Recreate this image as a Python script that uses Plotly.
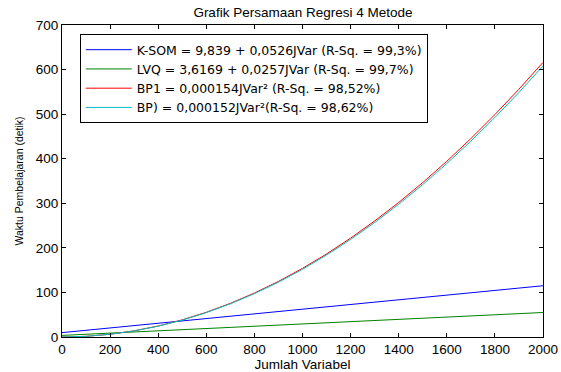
import plotly.graph_objects as go

x_vals = [0, 100, 200, 300, 400, 500, 600, 700, 800, 900, 1000,
          1100, 1200, 1300, 1400, 1500, 1600, 1700, 1800, 1900, 2000]
ksom = [9.8, 15.1, 20.4, 25.6, 30.9, 36.1, 41.4, 46.7, 51.9, 57.2, 62.4,
        67.7, 73.0, 78.2, 83.5, 88.7, 94.0, 99.3, 104.5, 109.8, 115.0]
lvq = [3.6, 6.2, 8.8, 11.3, 13.9, 16.5, 19.0, 21.6, 24.2, 26.7, 29.3,
       31.9, 34.5, 37.0, 39.6, 42.2, 44.7, 47.3, 49.9, 52.5, 55.0]
bp1 = [0, 1.5, 6.2, 13.9, 24.6, 38.5, 55.4, 75.5, 98.6, 124.7, 154.0,
       186.3, 221.8, 260.3, 301.8, 346.5, 394.2, 445.1, 499.0, 556.0, 616.0]
bp = [0, 1.5, 6.1, 13.7, 24.3, 38.0, 54.7, 74.5, 97.3, 123.1, 152.0,
      183.9, 218.9, 256.9, 297.9, 342.0, 389.1, 439.3, 492.5, 548.7, 608.0]

names = [
    "K-SOM = 9,839 + 0,0526JVar (R-Sq. = 99,3%)",
    "LVQ = 3,6169 + 0,0257JVar (R-Sq. = 99,7%)",
    "BP1 = 0,000154JVar² (R-Sq. = 98,52%)",
    "BP) = 0,000152JVar²(R-Sq. = 98,62%)",
]
colors = ["#0000ff", "#008000", "#ff0000", "#00bfbf"]
series = [ksom, lvq, bp1, bp]

fig = go.Figure()
for name, col, ys in zip(names, colors, series):
    fig.add_trace(go.Scatter(x=x_vals, y=ys, mode="lines", name=name,
                             line=dict(color=col, width=1)))

axis_common = dict(showline=True, linecolor="black", linewidth=1, mirror="ticks",
                   ticks="inside", ticklen=4, tickcolor="black", showgrid=False,
                   zeroline=False, automargin=False,
                   tickfont=dict(size=13.5, color="black"))

fig.update_layout(
    width=561, height=372,
    margin=dict(l=62, r=18, t=25, b=35),
    paper_bgcolor="white", plot_bgcolor="white",
    font=dict(family="Liberation Sans, Arial, sans-serif", size=13, color="black"),
    title=dict(text="Grafik Persamaan Regresi 4 Metode", x=0.54, xanchor="center",
               y=1 - 12 / 372, yanchor="middle", font=dict(size=13.5)),
    xaxis=dict(range=[0, 2000], dtick=200,
               title=dict(text="Jumlah Variabel", font=dict(size=13.5), standoff=1),
               **axis_common),
    yaxis=dict(range=[0, 700], dtick=100,
               title=dict(text="Waktu Pembelajaran (detik)", font=dict(size=10.5), standoff=10),
               **axis_common),
    legend=dict(x=0.037, y=0.971, xanchor="left", yanchor="top",
                bordercolor="black", borderwidth=1, bgcolor="white",
                font=dict(family="DejaVu Sans, sans-serif", size=12.5),
                tracegroupgap=0, itemwidth=46),
    showlegend=True,
)

fig.write_html("out.html", config={"displayModeBar": False},
               post_script="document.body.style.margin='0';document.body.style.overflow='hidden';")
